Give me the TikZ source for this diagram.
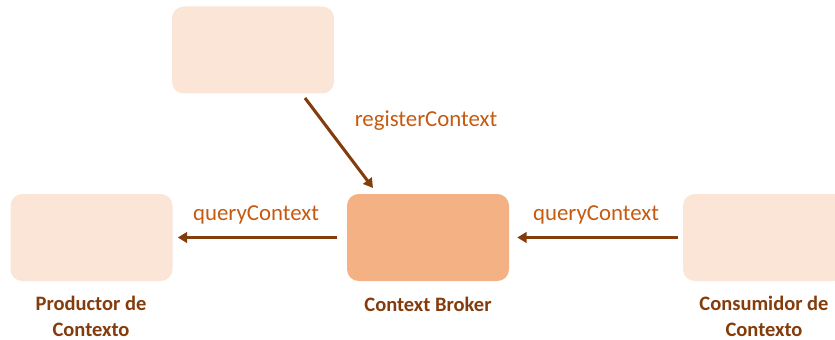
\documentclass[tikz,border=0pt]{standalone}
\usepackage{fontspec}
\setmainfont{Carlito}
\usetikzlibrary{arrows.meta}
\definecolor{boxlight}{HTML}{FBE5D6}
\definecolor{boxmid}{HTML}{F4B183}
\definecolor{arrbrown}{HTML}{843C0C}
\definecolor{lblorange}{HTML}{C55A11}
\tikzset{
  box/.style={rounded corners=10pt,minimum width=162*0.03cm,minimum height=87*0.03cm,inner sep=0pt},
  flow/.style={draw=arrbrown,line width=2.6pt,-{Triangle[length=8pt,width=9pt]}},
  msg/.style={text=lblorange,font=\fontsize{19.5}{22}\selectfont},
  role/.style={text=arrbrown,font=\bfseries\fontsize{17.5}{22}\selectfont,align=center,inner sep=0.5pt}
}
\begin{document}
\begin{tikzpicture}[x=0.03cm,y=-0.03cm]
  \useasboundingbox (0,0) rectangle (835,340);
  \clip (0,0) rectangle (835,340);
  \node[box,fill=boxlight] (src) at (253,50) {};
  \node[box,fill=boxlight] (prod) at (91.5,237.5) {};
  \node[box,fill=boxmid] (broker) at (428,237.5) {};
  \node[box,fill=boxlight] (cons) at (764,237.5) {};
  \coordinate (r1) at (305,98); \coordinate (r2) at (373,188);
  \draw[flow] (r1)--(r2);
  \draw[flow,shorten <=0.3cm,shorten >=0.15cm] (broker.west)--(prod.east);
  \draw[flow,shorten <=0.15cm,shorten >=0.24cm] (cons.west)--(broker.east);
  \node[msg] (lreg) at (426,121) {registerContext};
  \node[msg] (lq1) at (256,215) {queryContext};
  \node[msg] (lq2) at (596,215) {queryContext};
  \node[role] (tprod) at (91,316) {Productor de\\Contexto};
  \node[role] (tbroker) at (428,304) {Context Broker};
  \node[role] (tcons) at (764,316) {Consumidor de\\Contexto};
\end{tikzpicture}
\end{document}
